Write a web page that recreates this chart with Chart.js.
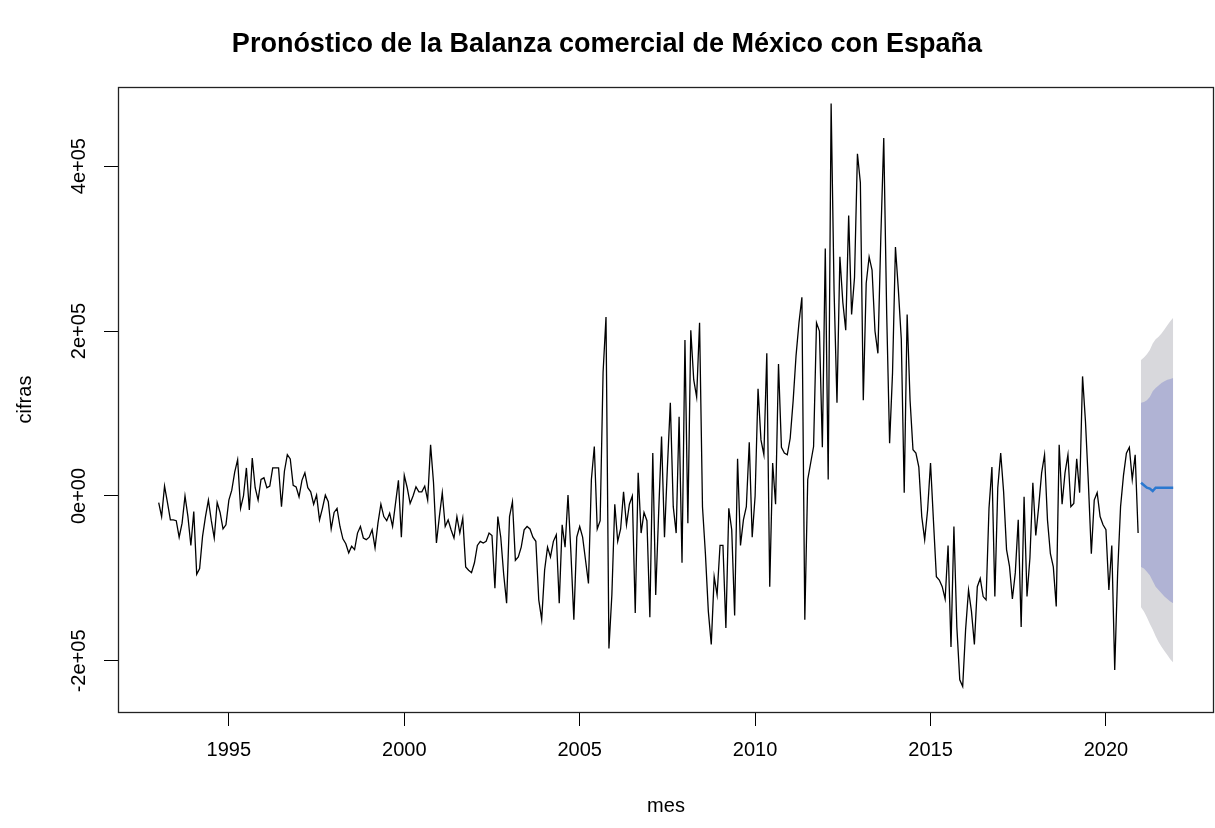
<!DOCTYPE html>
<html>
<head>
<meta charset="utf-8">
<script src="https://cdn.jsdelivr.net/npm/chart.js@4.4.1/dist/chart.umd.min.js"></script>
<style>
html,body{margin:0;padding:0;background:#fff;}
#wrap{width:1215px;height:828px;position:relative;}
</style>
</head>
<body>
<div id="wrap"><canvas id="c"></canvas></div>
<script>
// Monthly observed values (thousands), Jan 1993 .. Dec 2020
const startYear = 1993;
const obs1993_1996 = [
  -8, -25, 12, -8, -29, -29, -30, -50, -33, 0, -25, -60,
  -19, -95, -88, -49, -25, -5, -30, -51, -8, -20, -40, -35,
  -5, 7, 29, 44, -15, 0, 34, -17, 46, 10, -5, 20,
  22, 10, 12, 34, 34, 34, -13, 30, 50, 45, 13, 11
];
const obs1997_2000 = [
  -1, 19, 28, 10, 5, -10, 1, -29, -15, 1, -7, -40,
  -20, -15, -37, -52, -58, -69, -61, -65, -45, -37, -51, -53,
  -50, -41, -63, -33, -10, -25, -30, -21, -37, -9, 19, -50,
  25, 10, -9, 0, 11, 5, 5, 12, -5, 62, 16, -57
];
const obs2001_2004 = [
  -25, 4, -37, -29, -41, -51, -25, -45, -27, -86, -90, -93,
  -81, -60, -55, -57, -55, -45, -48, -112, -25, -50, -95, -130,
  -25, -7, -78, -74, -62, -41, -37, -40, -50, -55, -126, -150,
  -90, -62, -74, -55, -47, -130, -35, -62, 1, -69, -150, -50
];
const obs2005_2008 = [
  -37, -50, -78, -106, 20, 60, -40, -30, 150, 217, -185, -120,
  -10, -55, -40, 5, -35, -10, 0, -142, 28, -45, -20, -30,
  -147, 52, -120, -21, 72, -50, 35, 113, -13, -45, 96, -81,
  189, -33, 201, 141, 120, 210, -13, -70, -140, -180, -98, -120
];
const obs2009_2012 = [
  -60, -60, -160, -15, -41, -145, 45, -60, -29, -13, 65, -50,
  0, 130, 68, 50, 173, -110, 40, -10, 160, 59, 52, 50,
  70, 115, 170, 210, 241, -150, 20, 40, 60, 210, 200, 59,
  300, 20, 476, 250, 113, 290, 235, 201, 340, 220, 265, 415
];
const obs2013_2016 = [
  380, 116, 258, 290, 274, 200, 173, 314, 434, 222, 64, 149,
  302, 250, 190, 4, 220, 116, 56, 52, 35, -25, -53, -17,
  40, -30, -98, -102, -110, -125, -60, -183, -37, -159, -223, -231,
  -162, -114, -140, -180, -110, -100, -122, -126, -15, 35, -122, 10
];
const obs2017_2020 = [
  52, 5, -65, -85, -125, -93, -29, -159, -1, -122, -75, 16,
  -48, -13, 28, 50, -29, -70, -86, -134, 62, -10, 28, 50,
  -13, -9, 45, 4, 145, 90, 15, -70, -5, 4, -25, -35,
  -41, -114, -60, -211, -93, -13, 25, 52, 59, 20, 50, -45
];
// Forecast for 2021 (thousands)
const forecastStart = 2021;
const fcMean = [16, 13, 10, 9, 6, 10, 10, 10, 10, 10, 10, 10];
const hi80 = [113, 114, 116, 120, 127, 131, 134, 137, 139, 141, 142, 143];
const lo80 = [-86, -88, -92, -96, -103, -110, -114, -118, -122, -125, -128, -130];
const hi95 = [165, 168, 172, 177, 185, 190, 193, 197, 202, 207, 212, 216];
const lo95 = [-135, -140, -147, -155, -162, -170, -177, -183, -188, -193, -198, -202];
// Axes
const xTickYears = [1995, 2000, 2005, 2010, 2015, 2020];
const yTickValues = [-200000, 0, 200000, 400000];
const yTickLabels = ['-2e+05', '0e+00', '2e+05', '4e+05'];
const titleText = 'Pronóstico de la Balanza comercial de México con España';
const xTitle = 'mes';
const yTitle = 'cifras';

const UNIT = 1000;
const observed = [].concat(obs1993_1996, obs1997_2000, obs2001_2004, obs2005_2008,
                           obs2009_2012, obs2013_2016, obs2017_2020);
const toPts = (arr, start) => arr.map((v, i) => ({x: start + i / 12, y: v * UNIT}));

Chart.defaults.font.family = "'Liberation Sans', Arial, sans-serif";
Chart.defaults.color = '#000';

const rPlot = {
  id: 'rPlot',
  afterDraw(chart) {
    const {ctx, chartArea: a} = chart;
    const ys = chart.scales.y;
    ctx.save();
    ctx.strokeStyle = '#222';
    ctx.lineWidth = 1.3;
    ctx.strokeRect(Math.round(a.left) + 0.5, Math.round(a.top) + 0.5,
                   Math.round(a.right - a.left) - 1, Math.round(a.bottom - a.top));
    ctx.fillStyle = '#000';
    ctx.font = "20px 'Liberation Sans', Arial, sans-serif";
    ctx.textAlign = 'center';
    ctx.textBaseline = 'middle';
    yTickValues.forEach((v, i) => {
      const py = ys.getPixelForValue(v);
      ctx.save();
      ctx.translate(79, py);
      ctx.rotate(-Math.PI / 2);
      ctx.fillText(yTickLabels[i], 0, 0);
      ctx.restore();
    });
    ctx.restore();
  }
};

new Chart(document.getElementById('c'), {
  type: 'line',
  data: {
    datasets: [
      {label: 'pronóstico', data: toPts(fcMean, forecastStart), borderColor: '#2a78d0',
       borderWidth: 2.5, pointRadius: 0, fill: false, tension: 0},
      {label: 'observado', data: toPts(observed, startYear), borderColor: '#000',
       borderWidth: 1.3, pointRadius: 0, fill: false, tension: 0},
      {label: 'hi80', data: toPts(hi80, forecastStart), borderWidth: 0, borderColor: 'rgba(0,0,0,0)',
       backgroundColor: '#b0b3d4', pointRadius: 0, fill: '+1', tension: 0},
      {label: 'lo80', data: toPts(lo80, forecastStart), borderWidth: 0, borderColor: 'rgba(0,0,0,0)',
       pointRadius: 0, fill: false, tension: 0},
      {label: 'hi95', data: toPts(hi95, forecastStart), borderWidth: 0, borderColor: 'rgba(0,0,0,0)',
       backgroundColor: '#d8d8dc', pointRadius: 0, fill: '+1', tension: 0},
      {label: 'lo95', data: toPts(lo95, forecastStart), borderWidth: 0, borderColor: 'rgba(0,0,0,0)',
       pointRadius: 0, fill: false, tension: 0}
    ]
  },
  options: {
    responsive: true,
    maintainAspectRatio: false,
    animation: false,
    parsing: true,
    layout: {padding: {left: 0, right: 1, top: 0, bottom: 0}},
    plugins: {
      legend: {display: false},
      tooltip: {enabled: false},
      title: {display: true, text: titleText, color: '#000',
              font: {size: 27, weight: 'bold'}, padding: {top: 28, bottom: 26.6}}
    },
    scales: {
      x: {
        type: 'linear', min: 1991.84, max: 2023.08,
        afterBuildTicks: s => { s.ticks = xTickYears.map(v => ({value: v})); },
        afterFit: s => { s.height = 116; },
        ticks: {autoSkip: false, maxRotation: 0, minRotation: 0, padding: 12,
                font: {size: 20}, color: '#000', callback: v => String(v)},
        grid: {drawOnChartArea: false, drawTicks: true, tickLength: 14, color: '#000', lineWidth: 1},
        border: {display: false},
        title: {display: true, text: xTitle, color: '#000', font: {size: 20}, padding: {top: 0, bottom: 10}}
      },
      y: {
        type: 'linear', min: -262000, max: 496000,
        afterBuildTicks: s => { s.ticks = yTickValues.map(v => ({value: v})); },
        afterFit: s => { s.width = 118; },
        ticks: {display: false},
        grid: {drawOnChartArea: false, drawTicks: true, tickLength: 14, color: '#000', lineWidth: 1},
        border: {display: false},
        title: {display: true, text: yTitle, color: '#000', font: {size: 20}, padding: {top: 13, bottom: 0}}
      }
    }
  },
  plugins: [rPlot]
});
</script>
</body>
</html>
